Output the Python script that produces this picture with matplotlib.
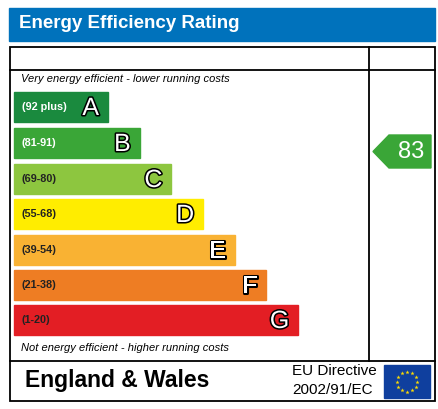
import matplotlib
matplotlib.use("Agg")
import matplotlib.pyplot as plt
import matplotlib.patheffects as pe
from matplotlib.patches import Rectangle, Polygon
import numpy as np

bands = ["A", "B", "C", "D", "E", "F", "G"]
ranges = ["(92 plus)", "(81-91)", "(69-80)", "(55-68)", "(39-54)", "(21-38)", "(1-20)"]
colors = ["#1a8a3e", "#3aa637", "#8dc63f", "#ffed00", "#f9b233", "#ee7d23", "#e31e24"]
label_colors = ["white", "white", "#222222", "#222222", "#222222", "#222222", "#222222"]
current = [83]
current_band = ["B"]

fig = plt.figure(figsize=(4.39, 4.09), dpi=100)
ax = fig.add_axes([0, 0, 1, 1])
ax.set_xlim(0, 439)
ax.set_ylim(409, 0)
ax.axis("off")

ax.add_patch(Rectangle((9, 8), 426, 33, color="#0072bc"))
ax.text(19, 24, "Energy Efficiency Rating", color="white", fontsize=13.5,
        fontweight="bold", va="center", family="Liberation Sans")

lw = 1.3
ax.add_patch(Rectangle((10, 47), 425, 354, fill=False, ec="black", lw=lw))
ax.plot([10, 435], [70, 70], color="black", lw=lw)
ax.plot([10, 435], [361, 361], color="black", lw=lw)
ax.plot([369, 369], [47, 361], color="black", lw=lw)

ax.text(21, 79, "Very energy efficient - lower running costs", fontsize=8,
        style="italic", va="center", family="Liberation Sans")
ax.text(21, 348, "Not energy efficient - higher running costs", fontsize=8,
        style="italic", va="center", family="Liberation Sans")

tops = [92, 128, 164, 199, 235, 270, 305]
for i, (b, r, c, lc) in enumerate(zip(bands, ranges, colors, label_colors)):
    y0 = tops[i]
    right = 108 + i * 31.7
    ax.add_patch(Rectangle((14, y0), right - 14, 30, color=c))
    ax.text(22, y0 + 15, r, fontsize=7.8, fontweight="bold", color=lc,
            va="center", family="Liberation Sans")
    ax.text(right - 9, y0 + 16, b, fontsize=18, color="white",
            va="center", ha="right", family="Liberation Sans",
            path_effects=[pe.Stroke(linewidth=2.2, foreground="black"), pe.Normal()])

bi = bands.index(current_band[0])
yc = tops[bi] + 7 + 16.5
ax.add_patch(Polygon([(373, yc), (389, yc - 16.5), (431, yc - 16.5),
                      (431, yc + 16.5), (389, yc + 16.5)], closed=True,
                     color=colors[bi]))
ax.text(411, yc + 1, str(current[0]), fontsize=17, color="white", va="center",
        ha="center", family="Liberation Sans")

ax.text(25, 381, "England & Wales", fontsize=16.5, fontweight="bold",
        va="center", family="Liberation Sans")
ax.text(292, 371, "EU Directive", fontsize=11, va="center", family="Liberation Sans")
ax.text(292, 390, "2002/91/EC", fontsize=11, va="center", family="Liberation Sans")

ax.add_patch(Rectangle((384, 365), 46, 33, color="#0f3f9e"))
cx, cy = 407, 381.5
for k in range(12):
    a = 2 * np.pi * k / 12
    ax.plot(cx + 10 * np.cos(a), cy + 10 * np.sin(a), marker="*",
            color="#ffdd00", markersize=3.2, markeredgewidth=0)

fig.savefig("out.png", dpi=100)
